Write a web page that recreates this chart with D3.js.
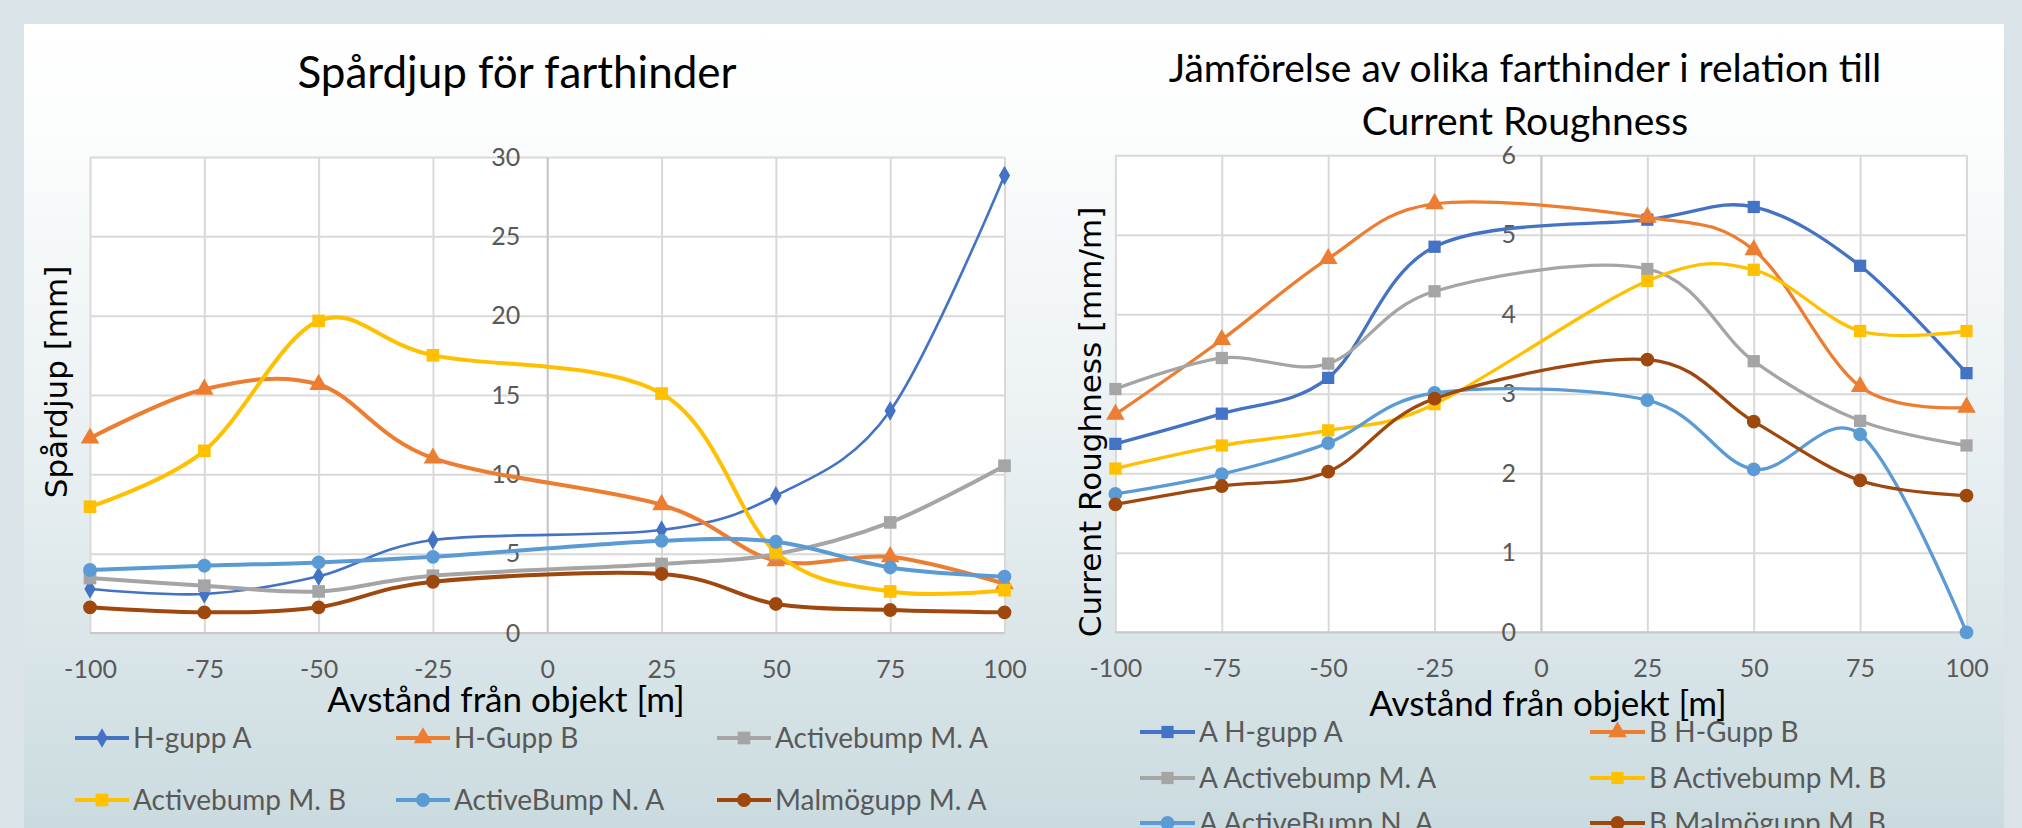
<!DOCTYPE html>
<html>
<head>
<meta charset="utf-8">
<script src="https://cdn.jsdelivr.net/npm/d3@7"></script>
<style>
  html, body { margin: 0; padding: 0; background: #d9e3e8; }
  svg { display: block; }
</style>
</head>
<body>
<div id="chart"></div>
<script>
// x positions (distance from object, m)
var distances = [-100, -75, -50, -25, 25, 50, 75, 100];
var xTicks = [-100, -75, -50, -25, 0, 25, 50, 75, 100];

// left chart: rut depth [mm]
var leftTicks = [0, 5, 10, 15, 20, 25, 30];
var leftNames = ["H-gupp A", "H-Gupp B", "Activebump M. A", "Activebump M. B", "ActiveBump N. A", "Malmögupp M. A"];
var hguppA = [2.77, 2.46, 3.57, 5.86, 6.49, 8.65, 14.0, 28.84];
var hguppB = [12.28, 15.36, 15.66, 11.02, 8.08, 4.55, 4.8, 3.1];
var activeMA = [3.46, 2.98, 2.62, 3.61, 4.35, 4.97, 6.97, 10.54];
var activeMB = [7.96, 11.48, 19.67, 17.5, 15.09, 5.08, 2.62, 2.7];
var activeNA = [3.97, 4.24, 4.45, 4.8, 5.81, 5.75, 4.13, 3.55];
var malmoA = [1.62, 1.3, 1.62, 3.23, 3.72, 1.83, 1.45, 1.3];

// right chart: current roughness [mm/m]
var rightTicks = [0, 1, 2, 3, 4, 5, 6];
var rightNames = ["A H-gupp A", "B H-Gupp B", "A Activebump M. A", "B Activebump M. B", "A ActiveBump N. A", "B Malmögupp M. B"];
var rHguppA = [2.37, 2.75, 3.2, 4.85, 5.19, 5.35, 4.61, 3.26];
var rHguppB = [2.74, 3.68, 4.7, 5.39, 5.22, 4.81, 3.09, 2.83];
var rActiveMA = [3.06, 3.45, 3.38, 4.29, 4.57, 3.41, 2.66, 2.35];
var rActiveMB = [2.06, 2.35, 2.54, 2.87, 4.42, 4.56, 3.79, 3.79];
var rActiveNA = [1.74, 1.99, 2.38, 3.01, 2.92, 2.05, 2.49, 0];
var rMalmoB = [1.61, 1.84, 2.02, 2.94, 3.43, 2.65, 1.91, 1.72];

var colors = ["#4472c4", "#ed7d31", "#a5a5a5", "#ffc000", "#5b9bd5", "#9e480e"];
var markers = ["diamond", "triangle", "square", "square", "circle", "circle"];
var rightMarkers = ["square", "triangle", "square", "square", "circle", "circle"];

var W = 2022, H = 828;
var calibri = "Lato, 'Open Sans', sans-serif";
// plain hyphen for negatives, like the original
var plain = function(d) { return String(d); };

var svg = d3.select("#chart").append("svg")
  .attr("width", W)
  .attr("height", H);

// panel background gradient
var defs = svg.append("defs");
var grad = defs.append("linearGradient")
  .attr("id", "panelGrad")
  .attr("x1", 0).attr("y1", 0).attr("x2", 0).attr("y2", 1);
grad.append("stop").attr("offset", "0").attr("stop-color", "#ffffff");
grad.append("stop").attr("offset", "0.12").attr("stop-color", "#fcfdfd");
grad.append("stop").attr("offset", "0.5").attr("stop-color", "#ebf1f3");
grad.append("stop").attr("offset", "0.78").attr("stop-color", "#d9e5e8");
grad.append("stop").attr("offset", "1").attr("stop-color", "#cadbdf");

svg.append("rect")
  .attr("x", 24).attr("y", 24)
  .attr("width", 1980).attr("height", H - 24)
  .attr("fill", "url(#panelGrad)");

function markerPath(type, size) {
  var sym = {
    diamond: d3.symbolDiamond,
    triangle: d3.symbolTriangle,
    square: d3.symbolSquare,
    circle: d3.symbolCircle
  }[type];
  return d3.symbol().type(sym).size(size)();
}

function drawChart(opt) {
  var x = d3.scaleLinear().domain([-100, 100]).range([opt.left, opt.right]);
  var y = d3.scaleLinear().domain([opt.ticks[0], opt.ticks[opt.ticks.length - 1]]).range([opt.bottom, opt.top]);
  var g = svg.append("g");

  // plot area
  g.append("rect")
    .attr("x", opt.left).attr("y", opt.top)
    .attr("width", opt.right - opt.left).attr("height", opt.bottom - opt.top)
    .attr("fill", "#ffffff");

  // horizontal gridlines
  g.append("g")
    .attr("transform", "translate(" + opt.left + ",0)")
    .call(d3.axisLeft(y).tickValues(opt.ticks).tickSize(-(opt.right - opt.left)).tickFormat(""))
    .call(function(a) {
      a.select(".domain").remove();
      a.selectAll("line").attr("stroke", "#d9d9d9").attr("stroke-width", 2);
    });

  // vertical gridlines
  g.append("g")
    .attr("transform", "translate(0," + opt.bottom + ")")
    .call(d3.axisBottom(x).tickValues(xTicks).tickSize(-(opt.bottom - opt.top)).tickFormat(""))
    .call(function(a) {
      a.select(".domain").remove();
      a.selectAll("line").attr("stroke", "#d9d9d9").attr("stroke-width", 2);
    });

  // horizontal axis line at 0
  g.append("line")
    .attr("x1", opt.left).attr("x2", opt.right)
    .attr("y1", y(0)).attr("y2", y(0))
    .attr("stroke", "#c8c8c8").attr("stroke-width", 2);

  // vertical axis at x = 0 with its labels
  g.append("g")
    .attr("transform", "translate(" + x(0) + ",0)")
    .call(d3.axisLeft(y).tickValues(opt.ticks).tickFormat(plain).tickSize(0).tickPadding(opt.yPad))
    .call(function(a) {
      a.select(".domain").attr("stroke", "#c8c8c8").attr("stroke-width", 2);
      a.selectAll("text")
        .attr("fill", "#595959")
        .style("font-family", calibri)
        .style("font-size", "25px");
    });

  // x tick labels
  g.append("g")
    .attr("transform", "translate(0," + opt.bottom + ")")
    .call(d3.axisBottom(x).tickValues(xTicks).tickFormat(plain).tickSize(0).tickPadding(0))
    .call(function(a) {
      a.select(".domain").remove();
      a.selectAll("text")
        .attr("y", opt.xLabelOffset)
        .attr("dy", "0.35em")
        .attr("fill", "#595959")
        .style("font-family", calibri)
        .style("font-size", "25px");
    });

  // series
  var line = d3.line()
    .x(function(d, i) { return x(distances[i]); })
    .y(function(d) { return y(d); })
    .curve(d3.curveCatmullRom.alpha(0));

  opt.series.forEach(function(s, k) {
    g.append("path")
      .datum(s)
      .attr("fill", "none")
      .attr("stroke", colors[k])
      .attr("stroke-width", opt.widths[k])
      .attr("d", line);
    g.selectAll(null)
      .data(s)
      .enter().append("path")
      .attr("transform", function(d, i) { return "translate(" + x(distances[i]) + "," + y(d) + ")"; })
      .attr("d", markerPath(opt.markers[k], opt.markerSizes[k]))
      .attr("fill", colors[k]);
  });

  // titles
  var title = svg.append("text")
    .attr("text-anchor", "middle")
    .attr("fill", "#000")
    .style("font-family", calibri)
    .style("font-size", opt.titleSize + "px");
  opt.title.forEach(function(t, i) {
    title.append("tspan")
      .attr("x", opt.titleX)
      .attr("y", opt.titleY + i * opt.titleLine)
      .text(t);
  });

  svg.append("text")
    .attr("text-anchor", "middle")
    .attr("x", opt.xTitleX).attr("y", opt.xTitleY)
    .attr("fill", "#000")
    .style("font-family", calibri)
    .style("font-size", "35px")
    .text("Avstånd från objekt [m]");

  svg.append("text")
    .attr("text-anchor", "middle")
    .attr("transform", "translate(" + opt.yTitleX + "," + opt.yTitleY + ")rotate(-90)")
    .attr("fill", "#000")
    .style("font-family", "'DejaVu Sans', Verdana, sans-serif")
    .style("font-size", opt.yTitleSize + "px")
    .text(opt.yTitle);

  // legend
  var legend = svg.append("g")
    .selectAll("g")
    .data(opt.names)
    .enter().append("g")
    .attr("transform", function(d, i) {
      return "translate(" + opt.legendCols[i % opt.legendCols.length] + "," + opt.legendRows[Math.floor(i / opt.legendCols.length)] + ")";
    });

  legend.append("line")
    .attr("x1", 0).attr("x2", opt.legendLine)
    .attr("stroke", function(d, i) { return colors[i]; })
    .attr("stroke-width", 4);

  legend.append("path")
    .attr("transform", "translate(" + opt.legendLine / 2 + ",0)")
    .attr("d", function(d, i) { return markerPath(opt.markers[i], opt.markerSizes[i]); })
    .attr("fill", function(d, i) { return colors[i]; });

  legend.append("text")
    .attr("x", opt.legendLine + 4)
    .attr("dy", "0.35em")
    .attr("fill", "#595959")
    .style("font-family", calibri)
    .style("font-size", "28px")
    .text(function(d) { return d; });
}

drawChart({
  left: 90, right: 1004.5, top: 157, bottom: 633,
  ticks: leftTicks,
  yPad: 27,
  xLabelOffset: 36,
  series: [hguppA, hguppB, activeMA, activeMB, activeNA, malmoA],
  widths: [2.6, 4, 4, 4, 4, 4],
  markers: markers,
  markerSizes: [110, 150, 160, 160, 150, 150],
  title: ["Spårdjup för farthinder"],
  titleX: 517, titleY: 88, titleLine: 0, titleSize: 44,
  xTitleX: 506, xTitleY: 712,
  yTitle: "Spårdjup [mm]", yTitleX: 67, yTitleY: 382, yTitleSize: 31,
  names: leftNames,
  legendCols: [75, 396, 717],
  legendRows: [738, 800],
  legendLine: 54
});

drawChart({
  left: 1115.4, right: 1966.5, top: 155.3, bottom: 632.3,
  ticks: rightTicks,
  yPad: 25,
  xLabelOffset: 36,
  series: [rHguppA, rHguppB, rActiveMA, rActiveMB, rActiveNA, rMalmoB],
  widths: [3.3, 3.3, 3.3, 3.3, 3.3, 3.3],
  markers: rightMarkers,
  markerSizes: [150, 150, 150, 150, 150, 150],
  title: ["Jämförelse av olika farthinder i relation till", "Current Roughness"],
  titleX: 1525, titleY: 82, titleLine: 53, titleSize: 39,
  xTitleX: 1548, xTitleY: 716,
  yTitle: "Current Roughness [mm/m]", yTitleX: 1101, yTitleY: 422, yTitleSize: 31,
  names: rightNames,
  legendCols: [1140, 1590],
  legendRows: [732, 778, 823],
  legendLine: 55
});
</script>
</body>
</html>
